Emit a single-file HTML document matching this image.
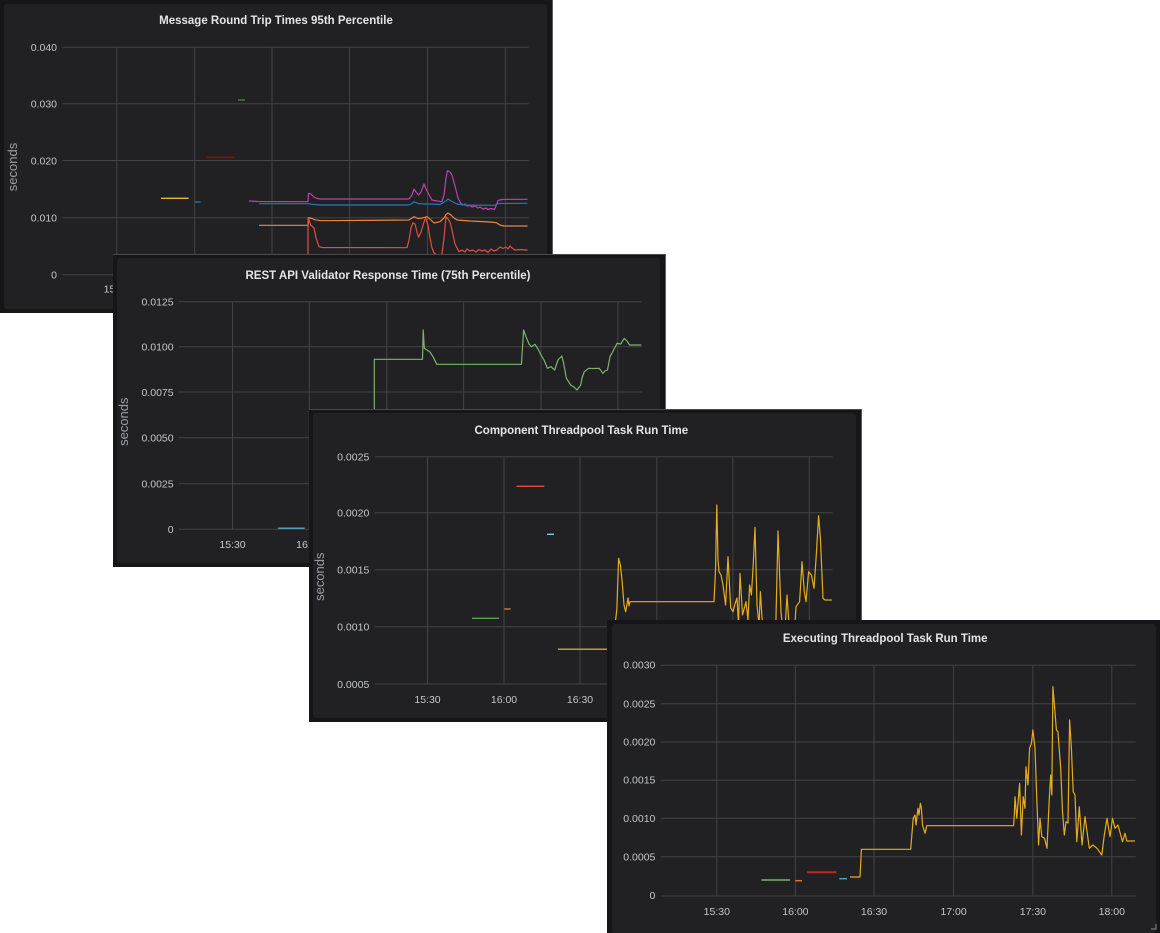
<!DOCTYPE html>
<html><head><meta charset="utf-8"><style>
html,body{margin:0;padding:0;background:#fff;}
svg{display:block;}
text{font-family:"Liberation Sans",sans-serif;}
.t{font-size:11.5px;font-weight:bold;fill:#e4e4e4;text-anchor:middle;}
.y{font-size:10.5px;fill:#c4c6c8;text-anchor:end;}
.x{font-size:10.5px;fill:#c4c6c8;text-anchor:middle;}
.s{font-size:13px;fill:#9c9ea2;text-anchor:middle;}
.g{stroke:#434345;stroke-width:1;}
.l{fill:none;stroke-width:1.2;stroke-linejoin:round;}
</style></head><body>
<svg width="1160" height="933" viewBox="0 0 1160 933" xmlns="http://www.w3.org/2000/svg">
<rect width="1160" height="933" fill="#fff"/>

<!-- PANEL 1 -->
<g>
<rect x="0" y="0" width="553" height="313" fill="#161618"/>
<rect x="4" y="4" width="543" height="305" rx="3" fill="#212124"/>
<line x1="552.5" y1="0" x2="552.5" y2="313" stroke="#5c5c5e" stroke-width="1"/>
<text class="t" x="276" y="24">Message Round Trip Times 95th Percentile</text>
<g class="g">
<line x1="62.5" y1="47.3" x2="528.6" y2="47.3"/>
<line x1="62.5" y1="103.8" x2="528.6" y2="103.8"/>
<line x1="62.5" y1="160.5" x2="528.6" y2="160.5"/>
<line x1="62.5" y1="217.7" x2="528.6" y2="217.7"/>
<line x1="62.5" y1="274.7" x2="528.6" y2="274.7"/>
<line x1="116.8" y1="47.3" x2="116.8" y2="274.7"/>
<line x1="194.6" y1="47.3" x2="194.6" y2="274.7"/>
<line x1="272" y1="47.3" x2="272" y2="274.7"/>
<line x1="349.6" y1="47.3" x2="349.6" y2="274.7"/>
<line x1="427.5" y1="47.3" x2="427.5" y2="274.7"/>
<line x1="505.4" y1="47.3" x2="505.4" y2="274.7"/>
</g>
<text class="y" x="57" y="51">0.040</text>
<text class="y" x="57" y="107.5">0.030</text>
<text class="y" x="57" y="164.3">0.020</text>
<text class="y" x="57" y="221.5">0.010</text>
<text class="y" x="57" y="278.5">0</text>
<text class="x" x="116.8" y="292.5">15:30</text>
<text class="s" transform="translate(17,167) rotate(-90)">seconds</text>
<line x1="161" y1="198.3" x2="188.6" y2="198.3" stroke="#eab839" stroke-width="1.3"/>
<line x1="195" y1="202" x2="200.7" y2="202" stroke="#1f78c1" stroke-width="1.3"/>
<line x1="206" y1="157.3" x2="234.6" y2="157.3" stroke="#890f02" stroke-width="1.6"/>
<line x1="238" y1="100" x2="245" y2="100" stroke="#508642" stroke-width="1.3"/>
<polyline class="l" stroke="#ba43a9" points="249,201 258,201.5 308,201.7 308.5,193.3 311,194 314,197 317,198.5 321,199 409,199 412,195 414,189 416,192 418.6,195 421,192 424,184 427,191 432,200 437,201 442,201.7 444,195 446,178 447.5,170.7 450,172 452,175 455,186 458,198 460.7,203 463,205 465,204 467,206 470,205.5 472,207 475,206 478,208 480,207 483,209 486,208 488,209.5 491,208.5 494.6,209.5 496,206 498,200.5 502,199.5 510,199.3 527.5,199.3"/>
<polyline class="l" stroke="#1f78c1" points="259,203.7 308,203.7 312,204.3 321,205 409,205 412,203.5 414,201.7 418,203.5 425,204 432,204 440,204.5 446,201 448,199 451,201 457,204 465,205 494.6,205.3 498,203.5 527.5,203.3"/>
<polyline class="l" stroke="#ef843c" points="259,225.3 308,225.3 309,217.7 312,218.5 315,219.8 321,220.7 409,220 412,218 414,216.7 418,218.5 421,218.3 427,216.7 430,219 434,223 440,221.7 444,218 446,214.5 448,213 451,215 454,218 457,220 470,221 490,222 496.4,222.7 500,225 503.6,226 527.5,226"/>
<polyline class="l" stroke="#e24d42" points="308,265 308,217.7 310.7,225 314,228 316,238 319,246.7 322,247.5 407,247.7 409,240 411,228 413,222.7 415,224 417,232 418.6,237.3 421,232 424,222 425.7,218 428,225 430,238 432,248 434,253 438,256 442,254 444,238 446,216.7 448,219 450,222 452,230 455,244 459,251.7 462,250 465,252 467,249 470,251 473,250 476,252 479,249.5 482,251 485,250 488,252.5 491,249 494,251 497,250 500,247 503,248.5 506,247 508,249 510,246 512,248 515,250 520,249.5 527.5,250"/>
</g>

<!-- PANEL 2 -->
<g>
<rect x="113" y="254" width="553" height="313" fill="#161618"/>
<rect x="117" y="258" width="543" height="305" rx="3" fill="#212124"/>
<line x1="113" y1="254.5" x2="666" y2="254.5" stroke="#4a4a4c" stroke-width="1"/>
<line x1="665.5" y1="254" x2="665.5" y2="567" stroke="#5c5c5e" stroke-width="1"/>
<text class="t" x="388" y="279">REST API Validator Response Time (75th Percentile)</text>
<g class="g">
<line x1="179" y1="301.7" x2="642" y2="301.7"/>
<line x1="179" y1="346.7" x2="642" y2="346.7"/>
<line x1="179" y1="392" x2="642" y2="392"/>
<line x1="179" y1="437.7" x2="642" y2="437.7"/>
<line x1="179" y1="483.7" x2="642" y2="483.7"/>
<line x1="179" y1="529.3" x2="642" y2="529.3"/>
<line x1="232.5" y1="301.7" x2="232.5" y2="529.3"/>
<line x1="309.3" y1="301.7" x2="309.3" y2="529.3"/>
<line x1="386.8" y1="301.7" x2="386.8" y2="529.3"/>
<line x1="463.6" y1="301.7" x2="463.6" y2="529.3"/>
<line x1="541" y1="301.7" x2="541" y2="529.3"/>
<line x1="617.9" y1="301.7" x2="617.9" y2="529.3"/>
</g>
<text class="y" x="173.6" y="305.5">0.0125</text>
<text class="y" x="173.6" y="350.5">0.0100</text>
<text class="y" x="173.6" y="395.8">0.0075</text>
<text class="y" x="173.6" y="441.5">0.0050</text>
<text class="y" x="173.6" y="487.5">0.0025</text>
<text class="y" x="173.6" y="533">0</text>
<text class="x" x="232.5" y="548">15:30</text>
<text class="x" x="309.3" y="548">16:00</text>
<text class="s" transform="translate(128,421.7) rotate(-90)">seconds</text>
<line x1="277.9" y1="528.3" x2="304.6" y2="528.3" stroke="#4a9fb0" stroke-width="1.5"/>
<polyline class="l" stroke="#7eb26d" points="374.3,580 374.3,359.3 422.5,359.3 423.2,330 424.3,348.3 427,350 430,352 433,356.7 436.8,364.3 521.4,364.3 523.6,330 526,336.7 529,344 531.4,346.7 535,344.3 538.6,350 541,355 544,360 547.5,368.3 551,366.7 554.6,370 558,360 561.8,356 563.6,363 566.4,378.3 570.7,385 574.3,387.3 577,390 580.7,385 582,378 584.3,371.7 588.6,368.3 593,368.5 599.3,368.3 602.9,373.3 605,371 607.5,370 610,356.7 613.6,350 617.1,343.3 620.7,344 624.3,338.3 627,341 629.6,345 641.4,345"/>
</g>

<!-- PANEL 3 -->
<g>
<rect x="309" y="409" width="553" height="313" fill="#161618"/>
<rect x="313" y="413" width="543" height="305" rx="3" fill="#212124"/>
<line x1="309" y1="409.5" x2="862" y2="409.5" stroke="#4a4a4c" stroke-width="1"/>
<line x1="861.5" y1="409" x2="861.5" y2="722" stroke="#5c5c5e" stroke-width="1"/>
<text class="t" x="581.3" y="434">Component Threadpool Task Run Time</text>
<g class="g">
<line x1="374.6" y1="456.7" x2="832.5" y2="456.7"/>
<line x1="374.6" y1="512.7" x2="832.5" y2="512.7"/>
<line x1="374.6" y1="569.7" x2="832.5" y2="569.7"/>
<line x1="374.6" y1="626.7" x2="832.5" y2="626.7"/>
<line x1="374.6" y1="684" x2="832.5" y2="684"/>
<line x1="427.5" y1="456.7" x2="427.5" y2="684"/>
<line x1="504" y1="456.7" x2="504" y2="684"/>
<line x1="580" y1="456.7" x2="580" y2="684"/>
<line x1="656.8" y1="456.7" x2="656.8" y2="684"/>
<line x1="732.9" y1="456.7" x2="732.9" y2="684"/>
<line x1="809.3" y1="456.7" x2="809.3" y2="684"/>
</g>
<text class="y" x="369.3" y="460.5">0.0025</text>
<text class="y" x="369.3" y="516.5">0.0020</text>
<text class="y" x="369.3" y="573.5">0.0015</text>
<text class="y" x="369.3" y="630.5">0.0010</text>
<text class="y" x="369.3" y="687.8">0.0005</text>
<text class="x" x="427.5" y="703">15:30</text>
<text class="x" x="504" y="703">16:00</text>
<text class="x" x="580" y="703">16:30</text>
<text class="s" transform="translate(324,576.7) rotate(-90)">seconds</text>
<line x1="472" y1="618.3" x2="499" y2="618.3" stroke="#629e51" stroke-width="1.4"/>
<line x1="504.3" y1="609" x2="510.7" y2="609" stroke="#e0752d" stroke-width="1.4"/>
<line x1="516.4" y1="486.3" x2="544.3" y2="486.3" stroke="#e24d42" stroke-width="1.4"/>
<line x1="547" y1="534.3" x2="554" y2="534.3" stroke="#6ed0e0" stroke-width="1.4"/>
<line x1="557.9" y1="649.3" x2="608" y2="649.3" stroke="#c49b29" stroke-width="1.5"/>
<polyline class="l" stroke="#e5ac1e" points="613,650 615,625 616.8,610 618.6,558.3 620.4,565 622,580 624,605 625.7,611.7 627,604 628,598 629,606 630,601.7 714,601.7 715.5,570 716.8,505 718,560 719,571.7 721,575 723,585 725.6,605 728,556.7 730.7,608 733,611.7 735,604 737,598 738.5,625 740,573.3 742.5,615 746,601.7 748,620 749.6,585 751.4,595 753.2,565 755,527.3 757,605 759,625 760.4,591.7 762,618 764,640 773,640 775.7,630 778,531 781,611.7 783.6,640 785,630 787,595 790,640 794,640 796,606.7 799.6,601.7 802,561.7 804.3,591.7 806,601.7 808.6,571.7 811.4,575 814,588.3 816.4,553.3 818.6,515.7 820.4,538.3 823,598.3 825,600 831.8,600"/>
</g>

<!-- PANEL 4 -->
<g>
<rect x="607" y="620" width="553" height="313" fill="#161618"/>
<rect x="612" y="624" width="544" height="309" rx="3" fill="#212124"/>
<text class="t" x="885.2" y="642">Executing Threadpool Task Run Time</text>
<g class="g">
<line x1="660.7" y1="665.3" x2="1135.7" y2="665.3"/>
<line x1="660.7" y1="703.7" x2="1135.7" y2="703.7"/>
<line x1="660.7" y1="742" x2="1135.7" y2="742"/>
<line x1="660.7" y1="780.3" x2="1135.7" y2="780.3"/>
<line x1="660.7" y1="818.3" x2="1135.7" y2="818.3"/>
<line x1="660.7" y1="856.7" x2="1135.7" y2="856.7"/>
<line x1="660.7" y1="896" x2="1135.7" y2="896"/>
<line x1="716.8" y1="665.3" x2="716.8" y2="896"/>
<line x1="795.4" y1="665.3" x2="795.4" y2="896"/>
<line x1="874" y1="665.3" x2="874" y2="896"/>
<line x1="953.6" y1="665.3" x2="953.6" y2="896"/>
<line x1="1032.9" y1="665.3" x2="1032.9" y2="896"/>
<line x1="1111.8" y1="665.3" x2="1111.8" y2="896"/>
</g>
<text class="y" x="655.4" y="668.5">0.0030</text>
<text class="y" x="655.4" y="707.5">0.0025</text>
<text class="y" x="655.4" y="745.5">0.0020</text>
<text class="y" x="655.4" y="783.5">0.0015</text>
<text class="y" x="655.4" y="822">0.0010</text>
<text class="y" x="655.4" y="860.3">0.0005</text>
<text class="y" x="655.4" y="899">0</text>
<text class="x" x="716.8" y="915">15:30</text>
<text class="x" x="795.4" y="915">16:00</text>
<text class="x" x="874" y="915">16:30</text>
<text class="x" x="953.6" y="915">17:00</text>
<text class="x" x="1032.9" y="915">17:30</text>
<text class="x" x="1111.8" y="915">18:00</text>
<line x1="761.4" y1="880" x2="790" y2="880" stroke="#7eb26d" stroke-width="1.4"/>
<line x1="795.4" y1="880.7" x2="802" y2="880.7" stroke="#e0752d" stroke-width="1.5"/>
<line x1="807" y1="872.3" x2="836.4" y2="872.3" stroke="#bf2b20" stroke-width="2"/>
<line x1="839.3" y1="878.7" x2="847" y2="878.7" stroke="#4a9fb0" stroke-width="1.5"/>
<polyline class="l" stroke="#e5ac1e" points="850,877 860,877 861.4,849.3 910.7,849.3 913.2,818.3 915,815 916,825 917.9,808.3 919,815 920.4,803.3 921.4,808.3 922.5,825 925,833.3 926.8,825.7 1013.6,825.7 1014.3,815 1015,796.7 1016.8,818.3 1019.6,783.3 1021.4,835 1023.2,796.7 1025,808.3 1026,766.7 1027.9,785 1029.6,748.3 1031.4,743.3 1032.9,730 1035,748.3 1036.4,788.3 1038.6,845 1040,818.3 1041.8,836.7 1044.6,838.3 1047,848.3 1049.3,798.3 1050.7,775 1051.8,795 1052.9,686.7 1054.3,703.3 1056.4,730 1057.9,731.7 1060.7,768.3 1062.5,811.7 1064.3,835 1066,821.7 1068,823 1069.6,720 1071.4,748.3 1073.2,791.7 1075,795 1076.8,841.7 1079.3,806.7 1082,845 1085,816.7 1089.3,848.3 1092.9,845 1097,848.3 1101.8,855 1104.3,835 1107,818.3 1110,836.7 1112.5,818.3 1115,828.3 1117.9,825 1120.7,835 1122.5,841.7 1125,833.3 1126.8,841 1135,841"/>
<path d="M1156 924 L1156 929 L1151 929" fill="none" stroke="#7a7a7c" stroke-width="1.2"/>
</g>
</svg>
</body></html>
